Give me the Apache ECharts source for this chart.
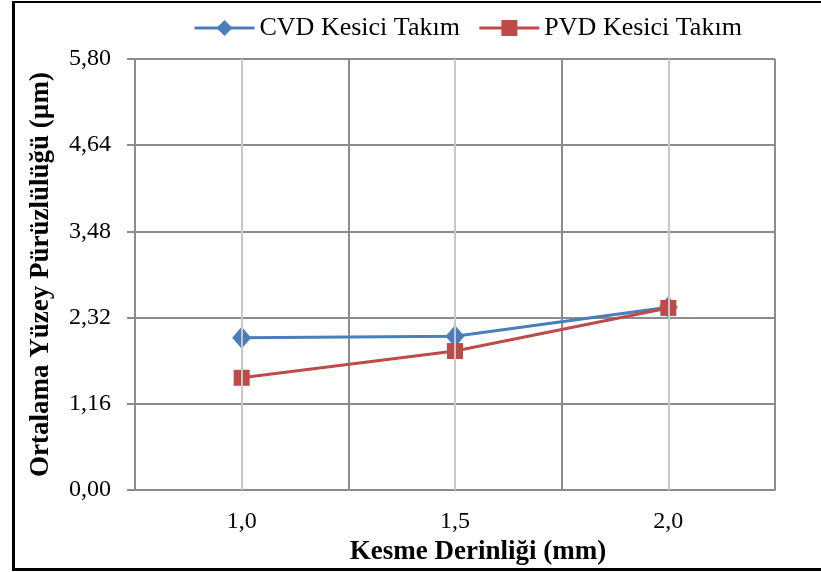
<!DOCTYPE html>
<html><head><meta charset="utf-8">
<script src="https://cdn.jsdelivr.net/npm/echarts@6/dist/echarts.min.js"></script>
<style>
html,body{margin:0;padding:0;background:#fff;}
#frame{position:absolute;left:12px;top:1px;width:830px;height:565px;border-left:3px solid #000;border-top:2px solid #000;border-bottom:3px solid #000;}
#c{position:absolute;left:0;top:0;width:821px;height:572px;}
</style></head>
<body>
<div id="frame"></div>
<div id="c"></div>
<script>
const categories = ['1,0', '1,5', '2,0'];
const cvdValues = [2.05, 2.07, 2.46];
const pvdValues = [1.51, 1.87, 2.45];
const yTicks = [0, 1.16, 2.32, 3.48, 4.64, 5.80];

const FONT = 'Liberation Serif';
const chart = echarts.init(document.getElementById('c'));
chart.setOption({
  backgroundColor: 'transparent',
  animation: false,
  textStyle: {fontFamily: FONT},
  grid: {left: 135, right: 46, top: 59, bottom: 82, containLabel: false},
  legend: {
    left: 188, top: 10,
    itemWidth: 60, itemHeight: 20, itemGap: 18,
    lineStyle: {width: 3},
    textStyle: {fontFamily: FONT, fontSize: 26, color: '#000'},
    data: ['CVD Kesici Takım', 'PVD Kesici Takım']
  },
  xAxis: {
    type: 'category',
    data: categories,
    boundaryGap: true,
    name: 'Kesme Derinliği (mm)',
    nameLocation: 'middle',
    nameGap: 44,
    nameTextStyle: {fontFamily: FONT, fontSize: 27, fontWeight: 'bold', color: '#000', padding: [0, 0, 0, 46]},
    axisLine: {lineStyle: {color: '#8c8c8c', width: 2}},
    axisTick: {show: false},
    axisLabel: {fontFamily: FONT, fontSize: 24, color: '#000', margin: 20},
    splitLine: {show: true, lineStyle: {color: '#8c8c8c', width: 2}}
  },
  yAxis: {
    type: 'value',
    min: 0, max: yTicks[yTicks.length - 1], interval: yTicks[1],
    name: 'Ortalama Yüzey Pürüzlülüğü (µm)',
    nameLocation: 'middle',
    nameGap: 80,
    nameTextStyle: {fontFamily: FONT, fontSize: 27, fontWeight: 'bold', color: '#000'},
    axisLine: {show: true, lineStyle: {color: '#8c8c8c', width: 2}},
    axisTick: {show: true, length: 8, lineStyle: {color: '#8c8c8c', width: 2}},
    axisLabel: {fontFamily: FONT, fontSize: 24, color: '#000', margin: 24,
      formatter: v => v.toFixed(2).replace('.', ',')},
    splitLine: {show: true, lineStyle: {color: '#8c8c8c', width: 2}}
  },
  series: [
    {
      name: 'guides', type: 'line', data: [], silent: true,
      markLine: {
        silent: true, symbol: 'none', label: {show: false},
        lineStyle: {color: '#c8c8c8', width: 2, type: 'solid'},
        data: categories.map(c => ({xAxis: c}))
      }
    },
    {
      name: 'CVD Kesici Takım', type: 'line', data: cvdValues,
      symbol: 'diamond', symbolSize: [19, 22],
      lineStyle: {color: '#4a7ebb', width: 3},
      itemStyle: {color: '#4a7ebb'},
      color: '#4a7ebb', z: 3
    },
    {
      name: 'PVD Kesici Takım', type: 'line', data: pvdValues,
      symbol: 'rect', symbolSize: 16,
      lineStyle: {color: '#be4b48', width: 3},
      itemStyle: {color: '#be4b48'},
      color: '#be4b48', z: 4
    }
  ]
});
</script>
</body></html>
